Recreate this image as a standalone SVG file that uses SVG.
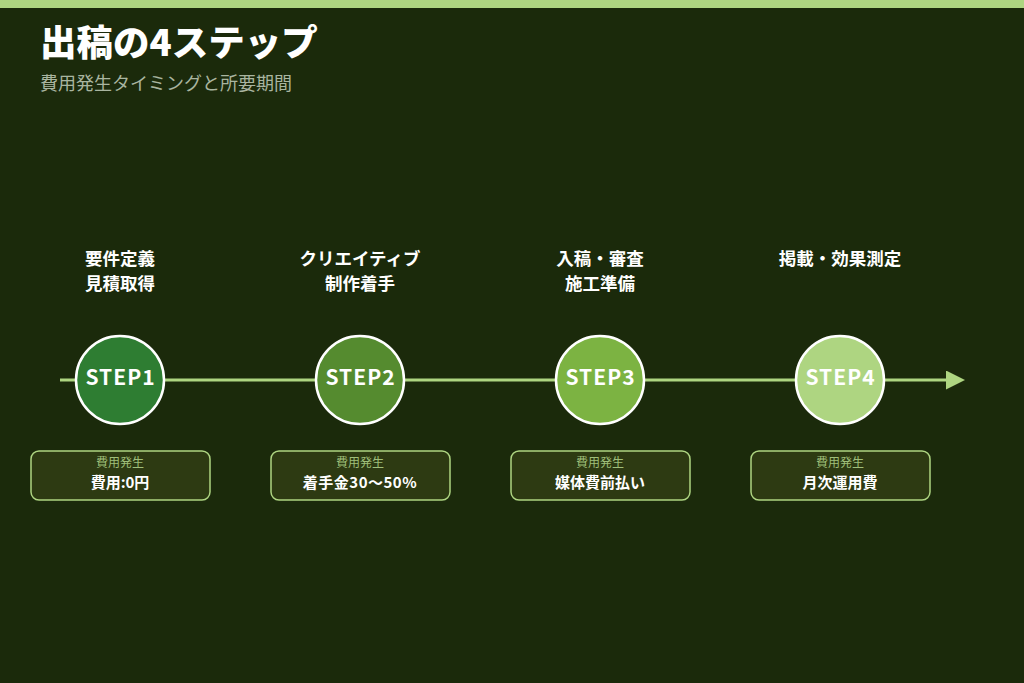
<svg xmlns="http://www.w3.org/2000/svg" width="1024" height="683" viewBox="0 0 1024 683">
<defs>
<style>
.t{font-family:"Noto Sans CJK JP","Noto Sans",sans-serif}
.title{font-size:36.5px;font-weight:900;fill:#ffffff}
.sub{font-size:18px;font-weight:400;fill:#a9b5a0}
.lbl{font-size:17.5px;font-weight:700;fill:#ffffff;text-anchor:middle}
.step{font-size:21px;font-weight:700;fill:#ffffff;text-anchor:middle;letter-spacing:1px}
.circ{stroke:#ffffff;stroke-width:2.5}
.box{fill:#2d3a12;stroke:#aed581;stroke-width:1.5}
.small{font-size:12px;fill:#9fbf7a;text-anchor:middle}
.val{font-size:15px;font-weight:700;fill:#ffffff;text-anchor:middle}
</style>
<marker id="arr" viewBox="0 0 10 10" refX="0" refY="5" markerWidth="19" markerHeight="19" markerUnits="userSpaceOnUse" orient="auto">
<path d="M0,0 L10,5 L0,10 Z" fill="#aed581"/>
</marker>
</defs>
<rect width="1024" height="683" fill="#1b2a0b"/>
<rect width="1024" height="8" fill="#aed581"/>
<text class="t title" x="40" y="56">出稿の4ステップ</text>
<text class="t sub" x="40" y="90">費用発生タイミングと所要期間</text>
<g id="connectors">
<line x1="60" y1="380" x2="946" y2="380" stroke="#aed581" stroke-width="3" marker-end="url(#arr)"/>
</g>
<g id="step1">
<text class="t lbl" x="120" y="265">要件定義</text>
<text class="t lbl" x="120" y="290">見積取得</text>
<circle class="circ" cx="120" cy="380" r="44" fill="#2e7d32"/>
<text class="t step" x="120.5" y="385">STEP1</text>
<rect class="box" x="31" y="451" width="179" height="49" rx="8"/>
<text class="t small" x="120" y="467">費用発生</text>
<text class="t val" x="120" y="488">費用:0円</text>
</g>
<g id="step2">
<text class="t lbl" x="360" y="265">クリエイティブ</text>
<text class="t lbl" x="360" y="290">制作着手</text>
<circle class="circ" cx="360" cy="380" r="44" fill="#558b2f"/>
<text class="t step" x="360.5" y="385">STEP2</text>
<rect class="box" x="271" y="451" width="179" height="49" rx="8"/>
<text class="t small" x="360" y="467">費用発生</text>
<text class="t val" x="360" y="488" style="letter-spacing:0.5px">着手金30〜50%</text>
</g>
<g id="step3">
<text class="t lbl" x="600" y="265">入稿・審査</text>
<text class="t lbl" x="600" y="290">施工準備</text>
<circle class="circ" cx="600" cy="380" r="44" fill="#7cb342"/>
<text class="t step" x="600.5" y="385">STEP3</text>
<rect class="box" x="511" y="451" width="179" height="49" rx="8"/>
<text class="t small" x="600" y="467">費用発生</text>
<text class="t val" x="600" y="488">媒体費前払い</text>
</g>
<g id="step4">
<text class="t lbl" x="840" y="265">掲載・効果測定</text>
<circle class="circ" cx="840" cy="380" r="44" fill="#aed581"/>
<text class="t step" x="840.5" y="385">STEP4</text>
<rect class="box" x="751" y="451" width="179" height="49" rx="8"/>
<text class="t small" x="840" y="467">費用発生</text>
<text class="t val" x="840" y="488">月次運用費</text>
</g>
</svg>
